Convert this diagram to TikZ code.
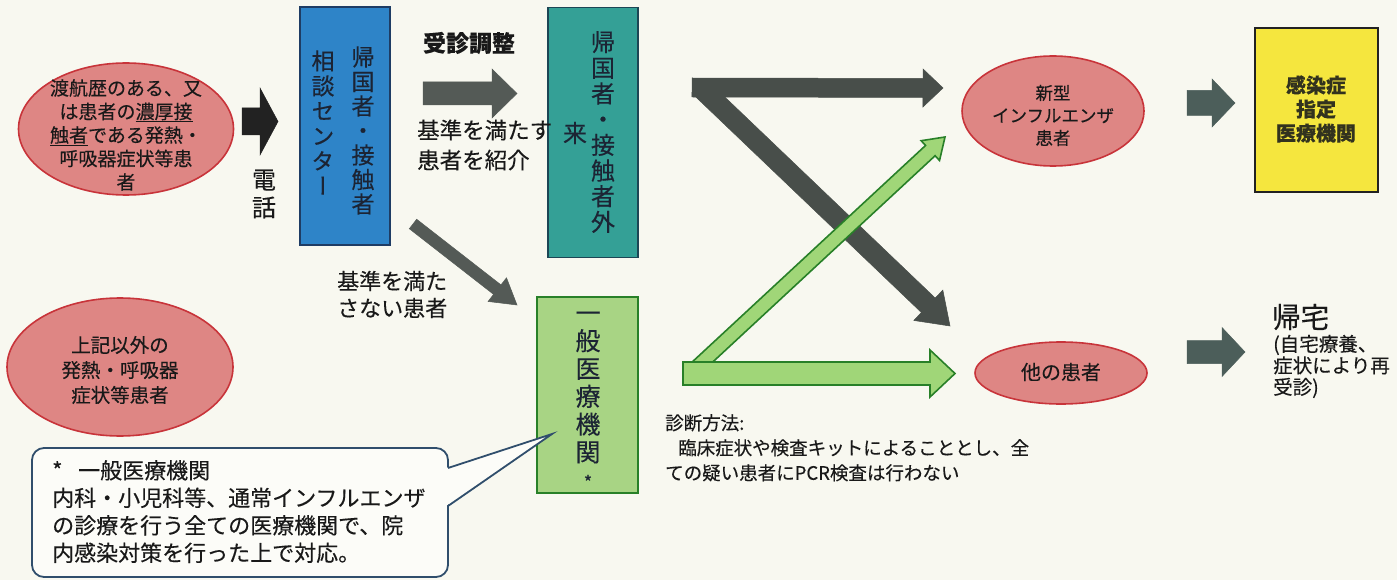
\documentclass[tikz,border=0pt]{standalone}
\usepackage{fontspec}
\setmainfont{Noto Sans CJK JP}[FakeBold=0.3]
\newfontfamily\jpv[RawFeature=+vert,FakeBold=0.3]{Noto Sans CJK JP}
\usetikzlibrary{shapes.geometric,calc}
\newcommand{\fs}[2]{\fontsize{#1}{#2}\selectfont}
\definecolor{bg}{RGB}{248,248,240}
\definecolor{pinkF}{RGB}{222,134,132}
\definecolor{pinkD}{RGB}{200,52,58}
\definecolor{blueF}{RGB}{46,132,200}
\definecolor{blueD}{RGB}{30,60,100}
\definecolor{tealF}{RGB}{52,160,150}
\definecolor{tealD}{RGB}{28,70,85}
\definecolor{grnF}{RGB}{168,212,132}
\definecolor{grnD}{RGB}{40,128,40}
\definecolor{grnA}{RGB}{160,214,120}
\definecolor{yelF}{RGB}{245,230,62}
\definecolor{darkA}{RGB}{34,34,34}
\definecolor{grayA}{RGB}{84,90,86}
\definecolor{zA}{RGB}{72,78,74}
\definecolor{slateA}{RGB}{76,94,90}
\definecolor{callD}{RGB}{48,78,108}
\definecolor{callF}{RGB}{252,252,248}
\definecolor{ink}{RGB}{25,25,25}
\definecolor{boxink}{RGB}{28,36,52}
\newcommand{\blkarrow}[6]{%
  \path ($(#3)!#6!(#2)$) coordinate (bkP);
  \filldraw[#1] ($(#2)!#4!90:(#3)$) -- ($(bkP)!#4!90:(#3)$) -- ($(bkP)!#5!90:(#3)$) -- (#3)
    -- ($(bkP)!#5!-90:(#3)$) -- ($(bkP)!#4!-90:(#3)$) -- ($(#2)!#4!-90:(#3)$) -- cycle;
}
\tikzset{
  txt/.style={inner sep=0pt, align=center, text=ink},
  pinkell/.style={ellipse, draw=pinkD, fill=pinkF, line width=1.6pt, inner sep=0pt},
  vbox/.style={rectangle, line width=1.6pt, inner sep=0pt},
  solidarrow/.style={fill=#1, draw=#1, line width=0.5pt, line join=miter},
  grnarrow/.style={fill=grnA, draw=grnD, line width=1.6pt, line join=miter},
}
\begin{document}
\begin{tikzpicture}[x=1pt,y=-1pt]
\useasboundingbox (0,0) rectangle (1397,580);
\fill[bg] (0,0) rectangle (1397,580);

% left ellipses
\node[pinkell, minimum width=215, minimum height=132] (e1) at (126,129) {};
\node[txt, font=\fs{19}{23.5}] (e1t) at (126,135) {渡航歴のある、又\\は患者の\underline{濃厚接}\\\underline{触者}である発熱・\\呼吸器症状等患\\者};
\node[pinkell, minimum width=226, minimum height=138] (e2) at (120,367) {};
\node[txt, font=\fs{19.5}{25}] (e2t) at (120,370) {上記以外の\\発熱・呼吸器\\症状等患者};

% arrow 1 and phone
\coordinate (a1s) at (242,121.5); \coordinate (a1e) at (278,121.5);
\blkarrow{solidarrow=darkA}{a1s}{a1e}{13.5pt}{33.5pt}{18pt}
\node[txt, font=\fs{24}{27.5}] (tel) at (264,194) {電\\話};

% consultation centre
\node[vbox, draw=blueD, fill=blueF, minimum width=90, minimum height=238] (ctr) at (345,126) {};
\node[txt, text=boxink, font=\jpv\fs{23}{24.5}] (ctr1) at (363,130.5) {帰\\国\\者\\・\\接\\触\\者};
\node[txt, text=boxink, font=\jpv\fs{23}{25}] (ctr2) at (323,122.5) {相\\談\\セ\\ン\\タ\\ー};

% outpatient
\node[vbox, draw=tealD, fill=tealF, minimum width=90, minimum height=250] (out) at (593,132.5) {};
\node[txt, text=boxink, font=\jpv\fs{24}{25.7}] (out1) at (603,132) {帰\\国\\者\\・\\接\\触\\者\\外};
\node[txt, text=boxink, font=\fs{24}{24}] (out2) at (575,133) {来};

\node[txt, font=\bfseries\fs{23}{23}] (jushin) at (469,43) {受診調整};
\coordinate (a2s) at (423,93.5); \coordinate (a2e) at (517,93.5);
\blkarrow{solidarrow=grayA}{a2s}{a2e}{11.5pt}{24.5pt}{25pt}
\node[txt, align=left, anchor=west, font=\fs{22.5}{30}] (k1) at (417,145) {基準を満たす\\患者を紹介};

% to general hospital
\coordinate (a3s) at (413,224); \coordinate (a3e) at (517,305);
\blkarrow{solidarrow=grayA}{a3s}{a3e}{6pt}{15pt}{25pt}
\node[txt, align=left, anchor=west, font=\fs{22}{27}] (k2) at (337,294.5) {基準を満た\\さない患者};

\node[vbox, draw=grnD, fill=grnF, minimum width=101, minimum height=196] (gen) at (587.5,395) {};
\node[txt, text=boxink, font=\jpv\fs{25}{27.8}] (gen1) at (588,387.5) {一\\般\\医\\療\\機\\関};
\node[txt, text=boxink, font=\fs{18}{18}] (gen2) at (588,482) {*};

% callout
\draw[callD, fill=callF, line width=1.8pt, rounded corners=12pt] (32,448) rectangle (448,577);
\fill[callF] (446,468) -- (552,434) -- (446,506) -- cycle;
\draw[callD, line width=1.8pt, line join=miter] (448,468) -- (552,434) -- (448,506);
\node[txt, align=left, anchor=north west, font=\fs{22}{27.5}] (callt) at (52,460)
  {\makebox[26pt][l]{*}一般医療機関\\内科・小児科等、通常インフルエンザ\\の診療を行う全ての医療機関で、院\\内感染対策を行った上で対応。};

% Z arrows
\coordinate (zs) at (692,87.5); \coordinate (ze) at (943,88);
\coordinate (ds) at (703,90); \coordinate (de) at (950,326);
\blkarrow{solidarrow=zA}{zs}{ze}{9.5pt}{19pt}{20pt}
\blkarrow{solidarrow=zA}{ds}{de}{10pt}{21pt}{30pt}
\coordinate (gs) at (696,368); \coordinate (ge) at (945,137);
\blkarrow{grnarrow}{gs}{ge}{7pt}{13.5pt}{20pt}
\coordinate (hs) at (683,373.5); \coordinate (he) at (955,373.5);
\blkarrow{grnarrow}{hs}{he}{11.5pt}{23.5pt}{25pt}

\node[txt, align=left, anchor=north west, font=\fs{18.5}{25}] (diag) at (665,414)
  {診断方法:\\\hspace*{13pt}臨床症状や検査キットによることとし、全\\ての疑い患者にPCR検査は行わない};

% right side
\node[pinkell, minimum width=182, minimum height=110] (e3) at (1053,111) {};
\node[txt, font=\fs{17.5}{22.5}] (e3t) at (1053,115.5) {新型\\インフルエンザ\\患者};
\node[pinkell, minimum width=172, minimum height=62] (e4) at (1061,373) {};
\node[txt, font=\fs{20}{20}] (e4t) at (1061,372) {他の患者};

\coordinate (a4s) at (1187,103); \coordinate (a4e) at (1235,103);
\blkarrow{solidarrow=slateA}{a4s}{a4e}{12.5pt}{24pt}{23pt}
\node[vbox, draw=darkA, fill=yelF, minimum width=123, minimum height=164] (yel) at (1316.5,110) {};
\node[txt, text={rgb,255:red,50;green,50;blue,30}, font=\bfseries\fs{20}{24}] (yelt) at (1316,109) {感染症\\指定\\医療機関};

\coordinate (a5s) at (1187,352); \coordinate (a5e) at (1245,352);
\blkarrow{solidarrow=slateA}{a5s}{a5e}{11.5pt}{24.5pt}{23pt}
\node[txt, anchor=west, font=\fs{28.5}{28.5}] (home) at (1272,317) {帰宅};
\node[txt, align=left, anchor=west, font=\fs{19.5}{21.5}] (homet) at (1273,366.5) {(自宅療養、\\症状により再\\受診)};
\end{tikzpicture}
\end{document}
